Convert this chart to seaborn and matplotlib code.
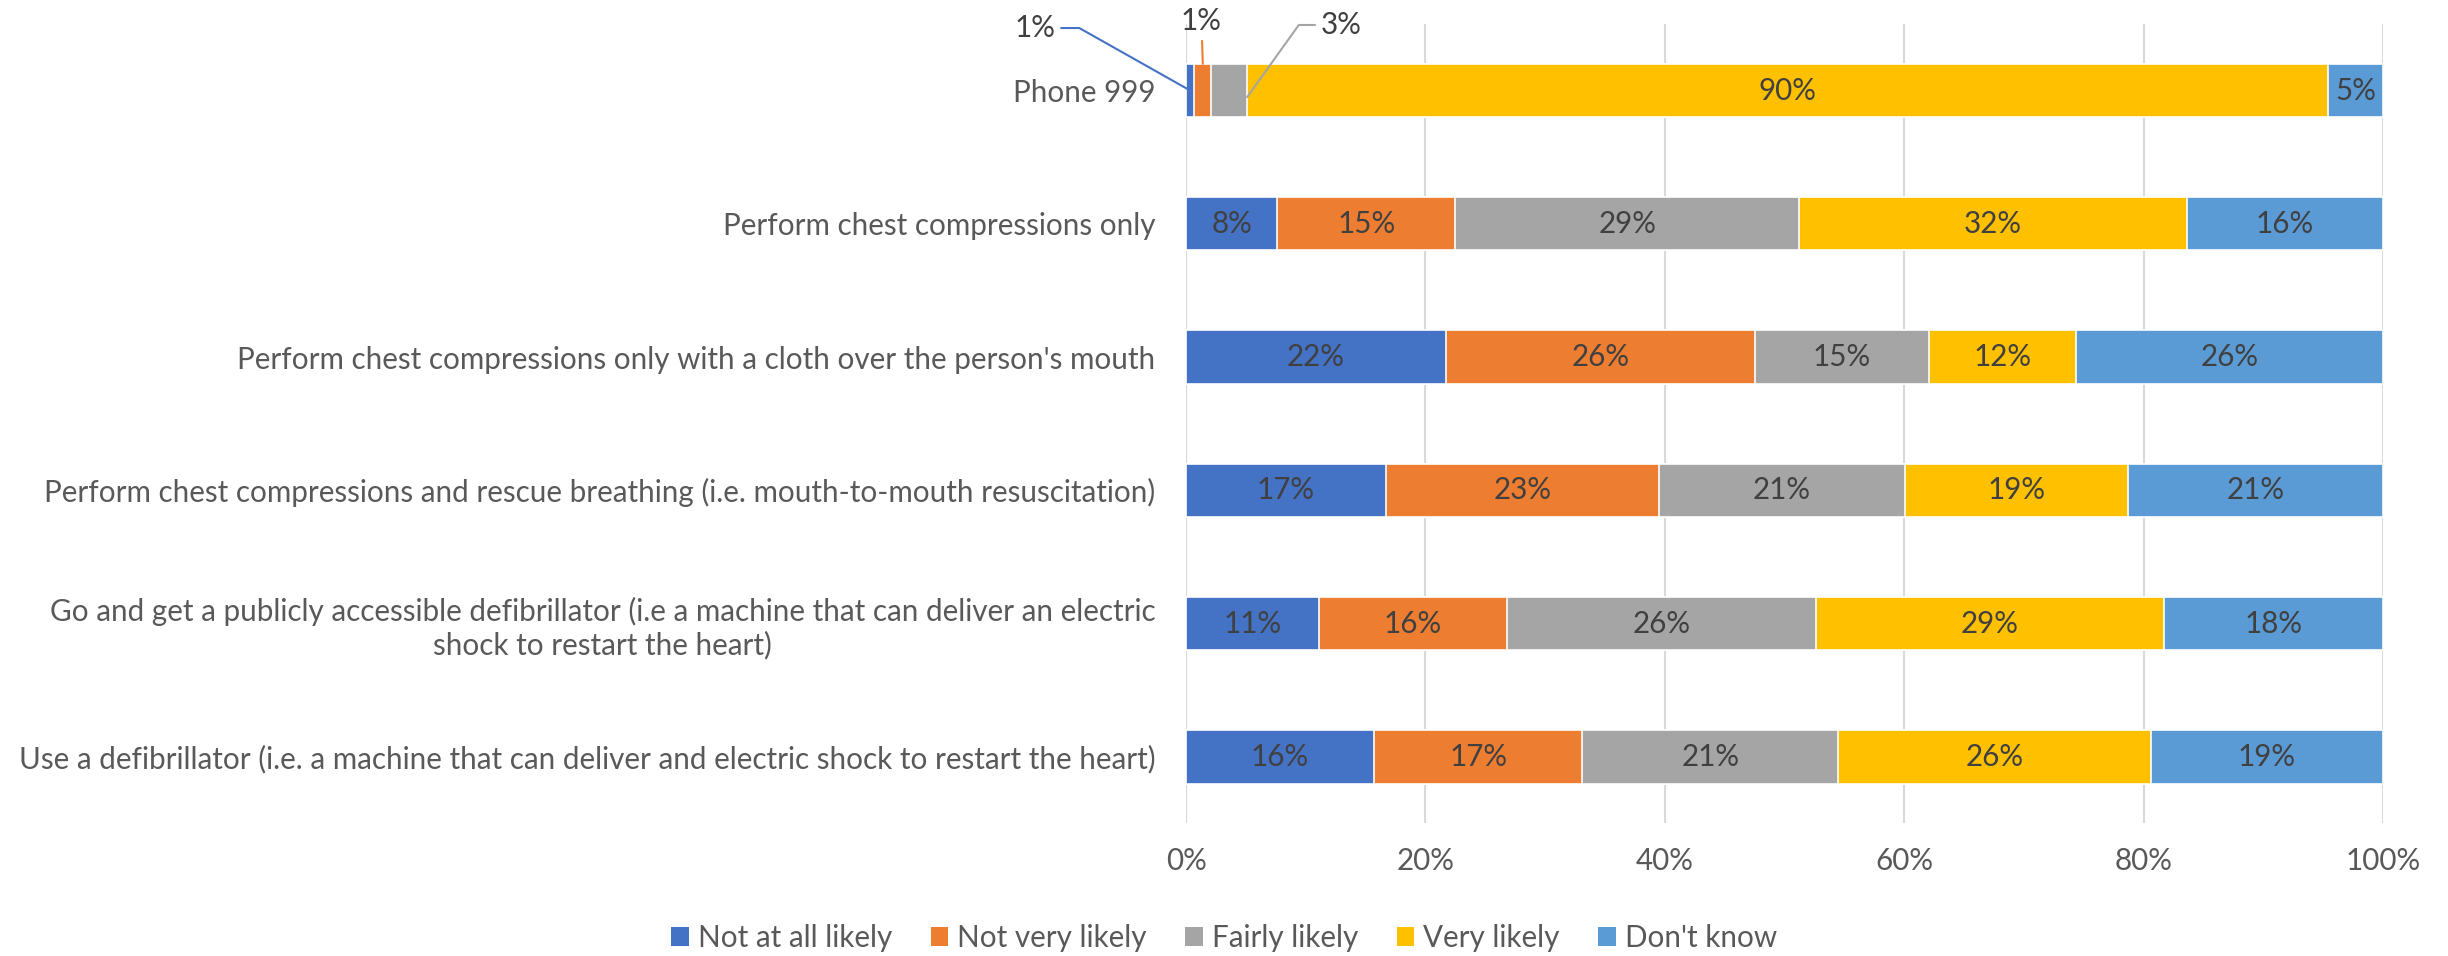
import numpy as np
import pandas as pd
import matplotlib
matplotlib.use("Agg")
import matplotlib.pyplot as plt
from matplotlib.patches import Patch
import seaborn as sns

categories = [
    "Phone 999",
    "Perform chest compressions only",
    "Perform chest compressions only with a cloth over the person's mouth",
    "Perform chest compressions and rescue breathing (i.e. mouth-to-mouth resuscitation)",
    "Go and get a publicly accessible defibrillator (i.e a machine that can deliver an electric\nshock to restart the heart)",
    "Use a defibrillator (i.e. a machine that can deliver and electric shock to restart the heart)",
]
series = ["Not at all likely", "Not very likely", "Fairly likely", "Very likely", "Don't know"]
not_at_all = [0.7, 7.6, 21.7, 16.7, 11.1, 15.7]
not_very = [1.4, 14.9, 25.8, 22.8, 15.7, 17.4]
fairly = [3.0, 28.7, 14.6, 20.6, 25.8, 21.4]
very = [90.3, 32.4, 12.3, 18.6, 29.1, 26.1]
dont_know = [4.6, 16.4, 25.6, 21.3, 18.3, 19.4]
x_ticks = [0, 20, 40, 60, 80, 100]

colors = ["#4472C4", "#ED7D31", "#A5A5A5", "#FFC000", "#5B9BD5"]
TEXT = "#595959"
LABEL = "#404040"
FS = 21.3

sns.set_theme(style="white")
plt.rcParams["font.family"] = ["Lato", "DejaVu Sans"]

df = pd.DataFrame({"category": categories})
for name, vals in zip(series, [not_at_all, not_very, fairly, very, dont_know]):
    df[name] = vals
cum = df[series].cumsum(axis=1)

fig = plt.figure(figsize=(24.48, 9.56), dpi=100)
ax = fig.add_axes([0.4845, 0.1386, 0.4889, 0.8364])

# stacked bars: draw cumulative totals from the right, shorter ones on top
for i in range(len(series) - 1, -1, -1):
    sns.barplot(x=cum[series[i]], y=df["category"], orient="h", color=colors[i],
                width=0.4, edgecolor="white", linewidth=1.2, saturation=1, ax=ax, zorder=3)

# data labels
for r in range(len(categories)):
    for i, s in enumerate(series):
        v = df.loc[r, s]
        if v < 4:
            continue
        ax.text(cum.loc[r, s] - v / 2, r, f"{round(v)}%", ha="center", va="center",
                fontsize=FS, color=LABEL, zorder=5)

# callouts for the small segments of the first row
ax.annotate(f"{round(not_at_all[0])}%", xy=(not_at_all[0] / 2, 0), xytext=(-112, 45),
            textcoords="offset points", ha="center", va="center", fontsize=FS, color=LABEL,
            arrowprops=dict(arrowstyle="-", color=colors[0], lw=1.5, relpos=(1, 0.5),
                            shrinkB=0, connectionstyle="angle,angleA=0,angleB=-29.4,rad=0"))
ax.annotate(f"{round(not_very[0])}%", xy=(cum.loc[0, series[1]] - not_very[0] / 2, -0.2),
            xytext=(-1, 31), textcoords="offset points", ha="center", va="center",
            fontsize=FS, color=LABEL,
            arrowprops=dict(arrowstyle="-", color=colors[1], lw=1.5, shrinkB=0))
ax.annotate(f"{round(fairly[0])}%", xy=(cum.loc[0, series[2]], 0.05), xytext=(68, 52),
            textcoords="offset points", ha="center", va="center", fontsize=FS, color=LABEL,
            arrowprops=dict(arrowstyle="-", color=colors[2], lw=1.5, relpos=(0, 0.5),
                            shrinkB=0, connectionstyle="angle,angleA=0,angleB=54.4,rad=0"))

ax.set_xlim(0, 100)
ax.set_ylim(5.5, -0.5)
ax.set_xticks(x_ticks)
ax.set_xticklabels([f"{t}%" for t in x_ticks])
ax.xaxis.grid(True, color="#D9D9D9", lw=1.5, zorder=0)
ax.set_axisbelow(True)
ax.set_xlabel("")
ax.set_ylabel("")
for sp in ax.spines.values():
    sp.set_visible(False)
ax.tick_params(axis="x", length=0, pad=17, labelsize=FS, labelcolor=TEXT)
ax.tick_params(axis="y", length=0, pad=22, labelsize=FS, labelcolor=TEXT)
for lab in ax.get_yticklabels():
    lab.set_multialignment("center")

handles = [Patch(facecolor=c, edgecolor="none", label=s) for c, s in zip(colors, series)]
leg = fig.legend(handles=handles, loc="center", bbox_to_anchor=(0.5, 0.019), ncol=5,
                 frameon=False, fontsize=FS, handlelength=0.6, handleheight=0.6,
                 handletextpad=0.3, columnspacing=1.3)
for t in leg.get_texts():
    t.set_color(TEXT)

fig.savefig("out.png", dpi=100, facecolor="white")
